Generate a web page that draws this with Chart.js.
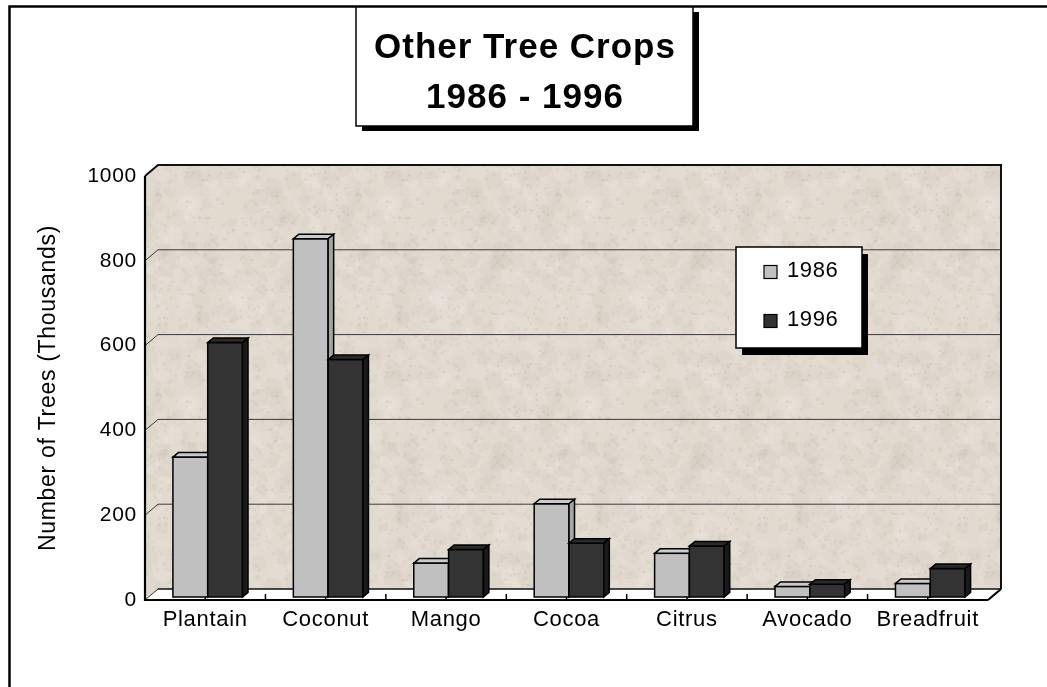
<!DOCTYPE html>
<html>
<head>
<meta charset="utf-8">
<script src="https://cdn.jsdelivr.net/npm/chart.js@4.4.0/dist/chart.umd.min.js"></script>
<style>
  html, body { margin: 0; padding: 0; background: #fff; }
</style>
</head>
<body>
<canvas id="chart" width="1047" height="687"></canvas>
<script>
// Data
const categories = ['Plantain', 'Coconut', 'Mango', 'Cocoa', 'Citrus', 'Avocado', 'Breadfruit'];
const trees1986 = [330, 845, 80, 220, 103, 25, 32];
const trees1996 = [600, 560, 112, 127, 120, 30, 67];
const seriesLabels = ['1986', '1996'];
const yTicks = [0, 200, 400, 600, 800, 1000];
const titleLines = ['Other Tree Crops', '1986 - 1996'];
const yAxisTitle = 'Number of Trees (Thousands)';

// Look
const FONT = '"Liberation Sans", Arial, sans-serif';
const WALL_DEPTH = { dx: 13, dy: -11 };
const BAR_DEPTH = { dx: 5.5, dy: -4.5 };
const BAR_SHIFT = { dx: 2.5, dy: -3 };
const faces = [
    { front: '#c0c0c0', top: '#cacaca', side: '#a4a4a4' },
    { front: '#333333', top: '#2a2a2a', side: '#1a1a1a' }
];

// speckled beige texture for the walls (seeded, tiles without seams)
function makeWallPattern() {
    const S = 200;
    const c = document.createElement('canvas');
    c.width = S; c.height = S;
    const g = c.getContext('2d');
    g.fillStyle = '#e2dacf';
    g.fillRect(0, 0, S, S);
    let seed = 12345;
    const rnd = () => (seed = (seed * 16807) % 2147483647) / 2147483647;
    const blob = (x, y, r) => {
        for (const ox of [-S, 0, S]) {
            for (const oy of [-S, 0, S]) {
                g.beginPath();
                g.arc(x + ox, y + oy, r, 0, Math.PI * 2);
                g.fill();
            }
        }
    };
    for (let i = 0; i < 300; i++) {
        g.fillStyle = rnd() < 0.5 ? 'rgba(200,190,178,0.10)' : 'rgba(240,234,226,0.18)';
        blob(rnd() * S, rnd() * S, 3 + rnd() * 7);
    }
    g.fillStyle = 'rgba(160,150,138,0.12)';
    for (let i = 0; i < 700; i++) {
        blob(rnd() * S, rnd() * S, 0.5 + rnd() * 1.2);
    }
    return document.getElementById('chart').getContext('2d').createPattern(c, 'repeat');
}
const wallPattern = makeWallPattern();

function poly(ctx, pts) {
    ctx.beginPath();
    pts.forEach(([px, py], i) => (i ? ctx.lineTo(px, py) : ctx.moveTo(px, py)));
    ctx.closePath();
}

function line(ctx, x1, y1, x2, y2) {
    ctx.beginPath();
    ctx.moveTo(x1, y1);
    ctx.lineTo(x2, y2);
    ctx.stroke();
}

function drawBox(ctx, l, r, t, b, col) {
    const dx = BAR_DEPTH.dx, dy = BAR_DEPTH.dy;
    ctx.strokeStyle = '#000';
    ctx.lineWidth = 1.5;
    ctx.fillStyle = col.front;
    ctx.fillRect(l, t, r - l, b - t);
    ctx.strokeRect(l, t, r - l, b - t);
    poly(ctx, [[l, t], [l + dx, t + dy], [r + dx, t + dy], [r, t]]);
    ctx.fillStyle = col.top;
    ctx.fill();
    ctx.stroke();
    poly(ctx, [[r, t], [r + dx, t + dy], [r + dx, b + dy], [r, b]]);
    ctx.fillStyle = col.side;
    ctx.fill();
    ctx.stroke();
}

// Walls, floor, gridlines and 3D bars
const scene3d = {
    id: 'scene3d',
    beforeDraw(chart) {
        const { ctx, width, height } = chart;
        ctx.save();
        ctx.fillStyle = '#fff';
        ctx.fillRect(0, 0, width, height);
        ctx.strokeStyle = '#000';
        ctx.lineWidth = 2.5;
        ctx.strokeRect(9.5, 6.5, width + 20, height + 20);
        ctx.restore();
        ctx.letterSpacing = '0.7px';
    },
    beforeDatasetsDraw(chart) {
        const { ctx, chartArea: a, scales: { x, y } } = chart;
        const L = a.left, R = a.right, T = a.top, B = a.bottom;
        const bx = WALL_DEPTH.dx, by = WALL_DEPTH.dy;
        ctx.save();

        // back wall + left wall
        ctx.fillStyle = wallPattern;
        ctx.fillRect(L + bx, T + by, R - L, B - T);
        poly(ctx, [[L, T], [L + bx, T + by], [L + bx, B + by], [L, B]]);
        ctx.fill();

        // floor
        poly(ctx, [[L, B], [L + bx, B + by], [R + bx, B + by], [R, B]]);
        ctx.fillStyle = '#fff';
        ctx.fill();

        // gridlines on back wall and left wall
        ctx.strokeStyle = '#3a3a3a';
        ctx.lineWidth = 1;
        yTicks.forEach(v => {
            const py = y.getPixelForValue(v);
            if (v > 0 && v < yTicks[yTicks.length - 1]) {
                line(ctx, L + bx, py + by, R + bx, py + by);
            }
            line(ctx, L, py, L + bx, py + by);
        });

        // wall outlines
        ctx.strokeStyle = '#111';
        ctx.lineWidth = 2;
        ctx.beginPath();
        ctx.moveTo(L, T);
        ctx.lineTo(L + bx, T + by);
        ctx.lineTo(R + bx, T + by);
        ctx.lineTo(R + bx, B + by);
        ctx.stroke();
        ctx.lineWidth = 1.5;
        line(ctx, L + bx, B + by, R + bx, B + by);
        ctx.lineWidth = 2.2;
        ctx.strokeStyle = '#000';
        line(ctx, L, T, L, B + 1);
        line(ctx, L, B, R, B);
        line(ctx, R, B, R + bx, B + by);

        // category tick marks on floor edge
        const step = (R - L) / categories.length;
        ctx.lineWidth = 1.5;
        for (let i = 1; i < categories.length * 2; i++) {
            const px = L + step * i / 2;
            line(ctx, px, B, px, B - 6);
        }

        // bars, drawn category by category so faces overlap correctly
        const metas = chart.data.datasets.map((d, i) => chart.getDatasetMeta(i));
        categories.forEach((c, i) => {
            metas.forEach((meta, d) => {
                const el = meta.data[i];
                const p = el.getProps(['x', 'y', 'base', 'width'], true);
                const l = p.x - p.width / 2 + BAR_SHIFT.dx;
                const r = p.x + p.width / 2 + BAR_SHIFT.dx;
                drawBox(ctx, l, r, p.y + BAR_SHIFT.dy, p.base + BAR_SHIFT.dy, faces[d]);
            });
        });

        ctx.restore();
        return false;
    }
};

// Title box with drop shadow
const titleBox = {
    id: 'titleBox',
    afterDraw(chart) {
        const { ctx } = chart;
        const bx = 356, by = 7, bw = 337, bh = 119;
        ctx.save();
        ctx.fillStyle = '#000';
        ctx.fillRect(bx + 6, by + 5, bw, bh);
        ctx.fillStyle = '#fff';
        ctx.fillRect(bx, by, bw, bh);
        ctx.strokeStyle = '#000';
        ctx.lineWidth = 1.5;
        ctx.strokeRect(bx, by, bw, bh);
        ctx.fillStyle = '#000';
        ctx.font = 'bold 35px ' + FONT;
        ctx.letterSpacing = '1px';
        ctx.textAlign = 'center';
        ctx.textBaseline = 'middle';
        titleLines.forEach((t, i) => ctx.fillText(t, bx + bw / 2 + 0.5, 48 + i * 50));
        ctx.restore();
    }
};

// Legend box with drop shadow
const boxLegend = {
    id: 'boxLegend',
    afterDraw(chart) {
        const { ctx } = chart;
        const lx = 736, ly = 247, lw = 126, lh = 101;
        ctx.save();
        ctx.fillStyle = '#000';
        ctx.fillRect(lx + 6, ly + 7, lw, lh);
        ctx.fillStyle = '#fff';
        ctx.fillRect(lx, ly, lw, lh);
        ctx.strokeStyle = '#000';
        ctx.lineWidth = 1.5;
        ctx.strokeRect(lx, ly, lw, lh);
        ctx.font = '22px ' + FONT;
        ctx.letterSpacing = '0.6px';
        ctx.textBaseline = 'middle';
        chart.data.datasets.forEach((ds, i) => {
            const cy = 272 + i * 49;
            ctx.fillStyle = ds.backgroundColor;
            ctx.fillRect(764, cy - 6.5, 13, 13);
            ctx.lineWidth = 1.2;
            ctx.strokeRect(764, cy - 6.5, 13, 13);
            ctx.fillStyle = '#000';
            ctx.fillText(ds.label, 787, cy - 1);
        });
        ctx.restore();
    }
};

new Chart(document.getElementById('chart'), {
    type: 'bar',
    data: {
        labels: categories,
        datasets: [
            { label: seriesLabels[0], data: trees1986, backgroundColor: faces[0].front },
            { label: seriesLabels[1], data: trees1996, backgroundColor: faces[1].front }
        ]
    },
    options: {
        responsive: false,
        animation: false,
        layout: { padding: { top: 176, right: 59, bottom: 0, left: 0 } },
        datasets: { bar: { categoryPercentage: 0.578, barPercentage: 1 } },
        plugins: {
            legend: { display: false },
            title: { display: false },
            tooltip: { enabled: false }
        },
        scales: {
            x: {
                grid: { display: false, drawTicks: false },
                border: { display: false },
                ticks: {
                    color: '#000',
                    font: { family: FONT, size: 22 },
                    padding: 7,
                    maxRotation: 0,
                    autoSkip: false
                },
                afterFit(s) { s.height = 87; }
            },
            y: {
                min: 0,
                max: 1000,
                afterBuildTicks(s) { s.ticks = yTicks.map(v => ({ value: v })); },
                grid: { display: false, drawTicks: false },
                border: { display: false },
                ticks: {
                    color: '#000',
                    font: { family: FONT, size: 21 },
                    padding: 8,
                    callback: v => String(v)
                },
                title: {
                    display: true,
                    text: yAxisTitle,
                    color: '#000',
                    font: { family: FONT, size: 23 },
                    padding: { top: 35 }
                },
                afterFit(s) { s.width = 145; }
            }
        }
    },
    plugins: [scene3d, titleBox, boxLegend]
});
</script>
</body>
</html>
